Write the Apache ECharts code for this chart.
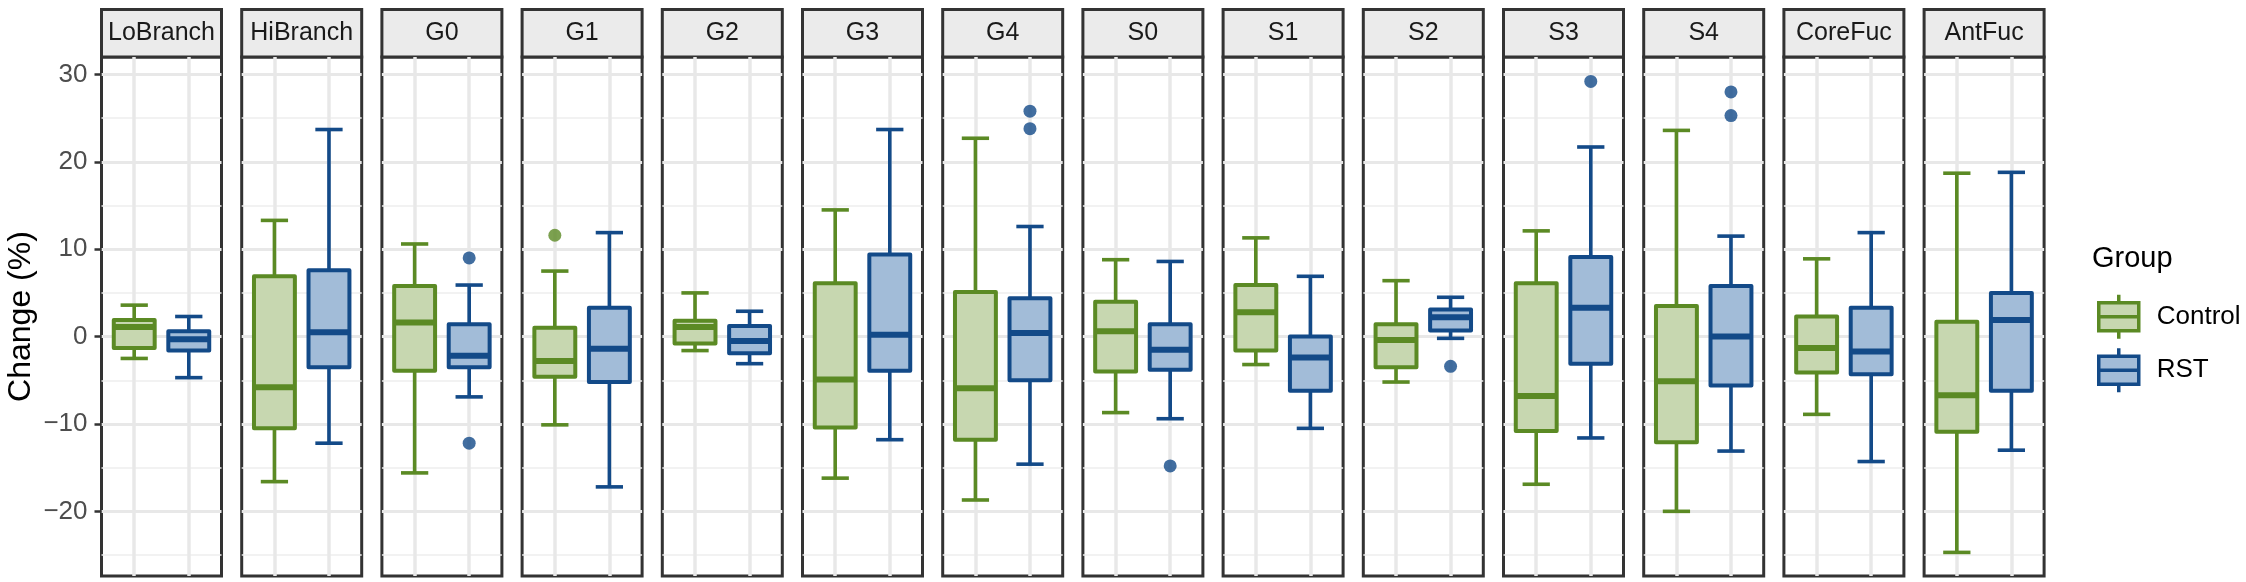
<!DOCTYPE html>
<html>
<head>
<meta charset="utf-8">
<title>Change (%) by group</title>
<script src="https://cdn.jsdelivr.net/npm/echarts@6.0.0/dist/echarts.min.js"></script>
<style>
  html, body { margin: 0; padding: 0; background: #fff; }
  #chart { width: 2246px; height: 582px; }
</style>
</head>
<body>
<div id="chart"></div>
<script>
var panels = ['LoBranch', 'HiBranch', 'G0', 'G1', 'G2', 'G3', 'G4', 'S0', 'S1', 'S2', 'S3', 'S4', 'CoreFuc', 'AntFuc'];
var groups = ['Control', 'RST'];
var yTicks = [-20, -10, 0, 10, 20, 30];
var yMinorTicks = [-25, -15, -5, 5, 15, 25];

// [min, Q1, median, Q3, max] for each panel
var controlStats = [
    [-2.5, -1.3, 1.1, 1.9, 3.6],
    [-16.6, -10.5, -5.8, 6.9, 13.3],
    [-15.6, -3.9, 1.6, 5.8, 10.6],
    [-10.1, -4.6, -2.8, 1.0, 7.5],
    [-1.6, -0.8, 1.1, 1.8, 5.0],
    [-16.2, -10.4, -4.9, 6.1, 14.5],
    [-18.7, -11.8, -5.9, 5.1, 22.7],
    [-8.7, -4.0, 0.6, 4.0, 8.8],
    [-3.2, -1.6, 2.8, 5.9, 11.3],
    [-5.2, -3.5, -0.4, 1.4, 6.4],
    [-16.9, -10.8, -6.8, 6.1, 12.1],
    [-20.0, -12.1, -5.1, 3.5, 23.6],
    [-8.9, -4.1, -1.3, 2.3, 8.9],
    [-24.7, -10.9, -6.7, 1.7, 18.7]
];
var rstStats = [
    [-4.7, -1.6, -0.3, 0.6, 2.3],
    [-12.2, -3.5, 0.5, 7.6, 23.7],
    [-6.9, -3.5, -2.2, 1.4, 5.9],
    [-17.2, -5.2, -1.4, 3.3, 11.9],
    [-3.1, -1.9, -0.5, 1.2, 2.9],
    [-11.8, -3.9, 0.2, 9.4, 23.7],
    [-14.6, -5.0, 0.4, 4.4, 12.6],
    [-9.4, -3.8, -1.5, 1.4, 8.6],
    [-10.5, -6.2, -2.4, 0.0, 6.9],
    [-0.2, 0.7, 2.2, 3.1, 4.5],
    [-11.6, -3.1, 3.3, 9.1, 21.7],
    [-13.1, -5.6, 0.0, 5.8, 11.5],
    [-14.3, -4.3, -1.7, 3.3, 11.9],
    [-13.0, -6.2, 1.9, 5.0, 18.8]
];
var controlOutliers = [[], [], [], [11.6], [], [], [], [], [], [], [], [], [], []];
var rstOutliers = [[], [], [9.0, -12.2], [], [], [], [25.8, 23.8], [-14.8], [], [-3.4], [29.2], [28.0, 25.3], [], []];

(function () {
    var chart = echarts.init(document.getElementById('chart'));
    var font = 'Liberation Sans, Arial, Helvetica, sans-serif';
    var lineColor = { Control: '#5B8A24', RST: '#134A88' };
    var fillColor = { Control: '#C7D7B0', RST: '#A2BCD8' };

    var panelLeft = 100, panelStep = 140.2, panelWidth = 123;
    var panelTop = 57, panelBottom = 576, stripTop = 8;

    function boxRenderer(line, fill) {
        return function (params, api) {
            var x = api.value(0);
            var pMin = api.coord([x, api.value(1)]);
            var pQ1 = api.coord([x, api.value(2)]);
            var pMed = api.coord([x, api.value(3)]);
            var pQ3 = api.coord([x, api.value(4)]);
            var pMax = api.coord([x, api.value(5)]);
            var boxL = api.coord([x - 0.375, 0])[0];
            var boxR = api.coord([x + 0.375, 0])[0];
            var capL = api.coord([x - 0.25, 0])[0];
            var capR = api.coord([x + 0.25, 0])[0];
            var wStyle = { stroke: line, lineWidth: 3.6 };
            return {
                type: 'group',
                children: [
                    { type: 'line', shape: { x1: pMax[0], y1: pMax[1], x2: pQ3[0], y2: pQ3[1] }, style: wStyle },
                    { type: 'line', shape: { x1: pMin[0], y1: pMin[1], x2: pQ1[0], y2: pQ1[1] }, style: wStyle },
                    { type: 'line', shape: { x1: capL, y1: pMax[1], x2: capR, y2: pMax[1] }, style: wStyle },
                    { type: 'line', shape: { x1: capL, y1: pMin[1], x2: capR, y2: pMin[1] }, style: wStyle },
                    { type: 'rect', shape: { x: boxL, y: pQ3[1], width: boxR - boxL, height: pQ1[1] - pQ3[1] },
                      style: { fill: fill, stroke: line, lineWidth: 4, lineJoin: 'round' } },
                    { type: 'line', shape: { x1: boxL, y1: pMed[1], x2: boxR, y2: pMed[1] },
                      style: { stroke: line, lineWidth: 6 } }
                ]
            };
        };
    }

    var grids = [], xAxes = [], yAxes = [], series = [], graphics = [];

    panels.forEach(function (name, i) {
        var left = panelLeft + i * panelStep;
        grids.push({
            left: left + 1.5, width: panelWidth - 3,
            top: panelTop, height: panelBottom - panelTop,
            show: true, backgroundColor: '#fff',
            borderColor: '#333', borderWidth: 3
        });
        xAxes.push({
            gridIndex: i, type: 'value', min: 0.4, max: 2.6,
            axisLine: { show: false },
            axisTick: { show: false, customValues: [1, 2] },
            axisLabel: { show: false },
            splitLine: { show: true, lineStyle: { color: '#E8E8E8', width: 3.5 } }
        });
        yAxes.push({
            gridIndex: i, type: 'value', min: -27.4, max: 32,
            name: i === 0 ? 'Change (%)' : '',
            nameLocation: 'middle', nameGap: 64,
            nameTextStyle: { fontFamily: font, fontSize: 32, color: '#000' },
            axisLine: { show: false },
            axisTick: { show: i === 0, customValues: yTicks, length: 7,
                        lineStyle: { color: '#333', width: 2.5 } },
            axisLabel: { show: i === 0, customValues: yTicks, margin: 14,
                         fontFamily: font, fontSize: 26, color: '#4D4D4D',
                         formatter: function (v) { return String(v).replace('-', '\u2212'); } },
            splitLine: { show: true, lineStyle: { color: '#E8E8E8', width: 3 } }
        });
        yAxes.push({
            gridIndex: i, type: 'value', min: -27.4, max: 32, position: 'left',
            axisLine: { show: false },
            axisTick: { show: false, customValues: yMinorTicks },
            axisLabel: { show: false },
            splitLine: { show: true, lineStyle: { color: '#EEEEEE', width: 1.6 } }
        });

        [controlStats, rstStats].forEach(function (stats, g) {
            var grp = groups[g];
            series.push({
                type: 'custom', name: grp,
                xAxisIndex: i, yAxisIndex: 2 * i,
                itemStyle: { color: fillColor[grp], borderColor: lineColor[grp], borderWidth: 3 },
                renderItem: boxRenderer(lineColor[grp], fillColor[grp]),
                data: [[g + 1].concat(stats[i])],
                silent: true
            });
        });
        [controlOutliers, rstOutliers].forEach(function (outs, g) {
            if (!outs[i].length) return;
            var grp = groups[g];
            series.push({
                type: 'scatter', name: grp,
                xAxisIndex: i, yAxisIndex: 2 * i,
                symbolSize: 13,
                itemStyle: { color: lineColor[grp] },
                data: outs[i].map(function (v) { return [g + 1, v]; }),
                silent: true, z: 3
            });
        });

        // facet strip
        graphics.push({
            type: 'rect',
            shape: { x: left + 1.5, y: stripTop + 1.5, width: panelWidth - 3, height: panelTop - stripTop - 1.5 },
            style: { fill: '#EBEBEB', stroke: '#333', lineWidth: 3 }
        });
        graphics.push({
            type: 'text',
            x: left + panelWidth / 2, y: (stripTop + panelTop) / 2 + 1,
            style: { text: name, fontFamily: font, fontSize: 25, fill: '#1A1A1A',
                     align: 'center', verticalAlign: 'middle' }
        });
    });

    var keyIcon = 'path://M20 0L20 8M0 8L40 8L40 36L0 36ZM0 22L40 22M20 36L20 44';

    var option = {
        backgroundColor: '#fff',
        animation: false,
        title: {
            text: 'Group', left: 2092, top: 244, padding: 0,
            textStyle: { fontFamily: font, fontSize: 29, fontWeight: 'normal', color: '#000' }
        },
        legend: {
            orient: 'vertical', left: 2097, top: 293, padding: 0,
            itemWidth: 40, itemHeight: 44, itemGap: 6,
            selectedMode: false,
            textStyle: { fontFamily: font, fontSize: 26, color: '#000', padding: [0, 0, 0, 13] },
            data: groups.map(function (grp) {
                return {
                    name: grp, icon: keyIcon,
                    itemStyle: { color: fillColor[grp], borderColor: lineColor[grp], borderWidth: 3.5 }
                };
            })
        },
        grid: grids,
        xAxis: xAxes,
        yAxis: yAxes,
        graphic: graphics,
        series: series
    };
    chart.setOption(option);

    window.addEventListener('resize', function () {
        chart.resize();
    });
})();
</script>
</body>
</html>
